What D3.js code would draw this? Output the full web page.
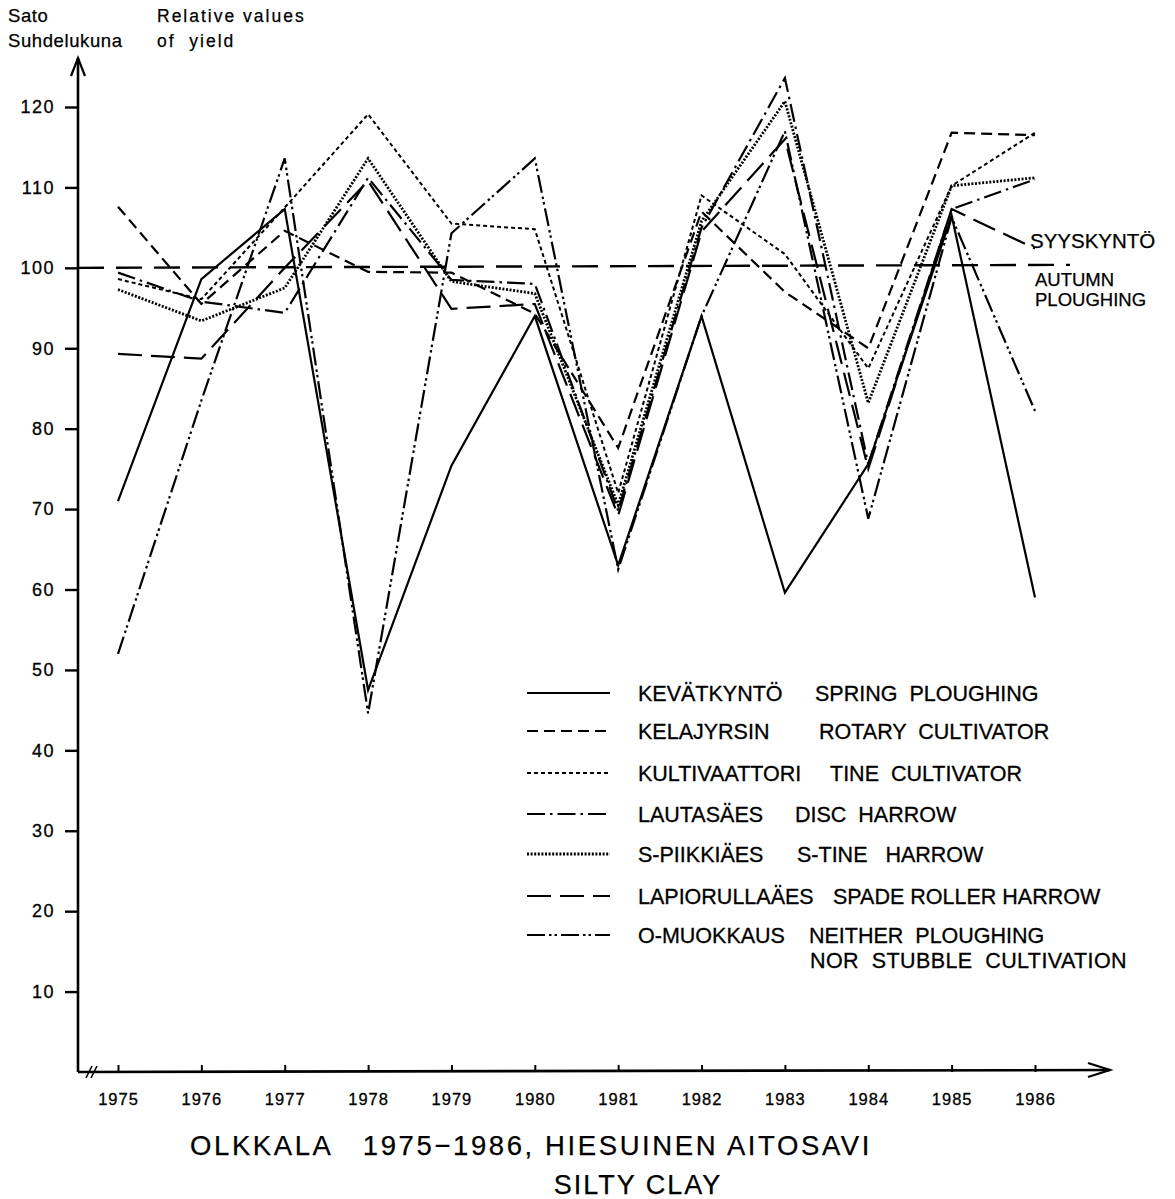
<!DOCTYPE html>
<html>
<head>
<meta charset="utf-8">
<script src="https://cdn.jsdelivr.net/npm/d3@7"></script>
<style>
  html, body { margin: 0; padding: 0; background: #fff; }
  svg text { font-family: "Liberation Sans", Arial, sans-serif; fill: #000; white-space: pre; }
</style>
</head>
<body>
<div id="chart"></div>
<script>
// DATA: relative yields (autumn ploughing = 100), Olkkala 1975-1986
const years = [1975, 1976, 1977, 1978, 1979, 1980, 1981, 1982, 1983, 1984, 1985, 1986];
const spring = [71, 98.6, 107.3, 47.5, 75.4, 94.0, 63.0, 94.0, 59.6, 75.6, 106.5, 59.0];
const rotary = [107.6, 95.5, 104.6, 99.5, 99.4, 94.3, 77.6, 107.0, 97.0, 90.0, 116.8, 116.5];
const tine = [98.6, 96.1, 107.5, 119.1, 105.5, 104.8, 72.0, 109.0, 101.7, 87.5, 110.2, 116.8];
const disc = [99.4, 95.8, 94.4, 111.2, 98.5, 98.0, 69.8, 105.0, 123.6, 75.6, 107.3, 111.0];
const stine = [97.3, 93.4, 97.5, 113.6, 98.3, 96.8, 70.5, 105.8, 120.7, 83.2, 110.2, 111.2];
const spade = [89.3, 88.7, 100.0, 110.8, 94.9, 95.5, 69.2, 104.5, 116.0, 75.0, 107.3, 102.4];
const noTill = [52.0, 83.5, 113.6, 44.6, 104.3, 113.6, 62.5, 94.0, 117.0, 68.8, 106.3, 82.2];
const autumnRef = 100;
const yTicks = [10, 20, 30, 40, 50, 60, 70, 80, 90, 100, 110, 120];

const legendFi = ['KEVÄTKYNTÖ', 'KELAJYRSIN', 'KULTIVAATTORI', 'LAUTASÄES', 'S-PIIKKIÄES', 'LAPIORULLAÄES', 'O-MUOKKAUS'];
const legendEn = ['SPRING  PLOUGHING', 'ROTARY  CULTIVATOR', 'TINE  CULTIVATOR', 'DISC  HARROW', 'S-TINE   HARROW', 'SPADE ROLLER HARROW', 'NEITHER  PLOUGHING'];

const series = [
    { values: spring, dash: null, width: 2.2 },
    { values: rotary, dash: '11,6', width: 2.2 },
    { values: tine, dash: '4,3', width: 2 },
    { values: disc, dash: '18,5,2.5,5', width: 2.2 },
    { values: stine, dash: '2,1.6', width: 2.8 },
    { values: spade, dash: '24,9', width: 2.2 },
    { values: noTill, dash: '18,4,2.5,3,2.5,4', width: 2.2 }
];

const width = 1175, height = 1199;
const svg = d3.select('#chart').append('svg')
    .attr('width', width)
    .attr('height', height)
    .attr('viewBox', `0 0 ${width} ${height}`);

const x = d3.scaleLinear().domain([1975, 1986]).range([118, 1035]);
const y = d3.scaleLinear().domain([0, 120]).range([1072, 107]);
const axisX = 78, axisY = y(0);

// AXES
const gy = svg.append('g')
    .attr('transform', `translate(${axisX},0)`)
    .call(d3.axisLeft(y).tickValues(yTicks).tickSize(13).tickPadding(10).tickFormat(d3.format('d')));
gy.select('.domain').remove();
gy.selectAll('.tick line').attr('stroke', '#000').attr('stroke-width', 2.4);
gy.selectAll('.tick text')
    .attr('font-size', 18).attr('letter-spacing', 1.5)
    .attr('stroke', '#000').attr('stroke-width', 0.3)
    .style('font-family', '"Liberation Sans", Arial, sans-serif');

const gx = svg.append('g')
    .attr('transform', `translate(0,${axisY})`)
    .call(d3.axisBottom(x).tickValues(years).tickSize(-7).tickPadding(21).tickFormat(d3.format('d')));
gx.select('.domain').remove();
gx.selectAll('.tick line').attr('stroke', '#000').attr('stroke-width', 2);
gx.selectAll('.tick text')
    .attr('font-size', 16.5).attr('letter-spacing', 1)
    .attr('stroke', '#000').attr('stroke-width', 0.3)
    .style('font-family', '"Liberation Sans", Arial, sans-serif');

// axis lines and arrows
svg.append('line').attr('x1', axisX).attr('y1', axisY).attr('x2', axisX).attr('y2', 58)
    .attr('stroke', '#000').attr('stroke-width', 2.6);
svg.append('path').attr('d', `M${axisX - 7},${76} L${axisX},${58} L${axisX + 7},${76}`)
    .attr('fill', 'none').attr('stroke', '#000').attr('stroke-width', 2.2);
svg.append('line').attr('x1', axisX).attr('y1', axisY).attr('x2', 1110).attr('y2', axisY - 2)
    .attr('stroke', '#000').attr('stroke-width', 2.6);
svg.append('path').attr('d', `M1088,${axisY - 9} L1110,${axisY - 2} L1088,${axisY + 5}`)
    .attr('fill', 'none').attr('stroke', '#000').attr('stroke-width', 2.2);
// axis break mark
svg.append('path').attr('d', `M86,${axisY + 6} L92,${axisY - 6} M91,${axisY + 6} L97,${axisY - 6}`)
    .attr('stroke', '#000').attr('stroke-width', 1.6);

// AUTUMN PLOUGHING reference
svg.append('line')
    .attr('x1', axisX).attr('x2', 1070)
    .attr('y1', y(autumnRef)).attr('y2', y(autumnRef) - 3)
    .attr('stroke', '#000').attr('stroke-width', 2.4)
    .attr('stroke-dasharray', '26,12');

// SERIES
const line = d3.line().x((d, i) => x(years[i])).y(d => y(d));
svg.append('g').selectAll('path')
    .data(series)
    .join('path')
    .attr('d', d => line(d.values))
    .attr('fill', 'none')
    .attr('stroke', '#000')
    .attr('stroke-width', d => d.width)
    .attr('stroke-linejoin', 'miter')
    .attr('stroke-dasharray', d => d.dash);

// LEGEND
const baselines = [701, 739, 781, 822, 862, 904, 943];
const enX = [815, 819, 830, 795, 797, 833, 809];
const lg = svg.append('g').attr('stroke', '#000').attr('stroke-width', 0.3);
const rows = lg.selectAll('g').data(series).join('g')
    .attr('transform', (d, i) => `translate(0,${baselines[i]})`);
rows.append('line')
    .attr('x1', 527).attr('x2', 610).attr('y1', -8).attr('y2', -8)
    .attr('stroke', '#000')
    .attr('stroke-width', d => d.width)
    .attr('stroke-dasharray', d => d.dash);
rows.append('text')
    .attr('x', 638).attr('y', 0)
    .attr('font-size', 21.5)
    .text((d, i) => legendFi[i]);
rows.append('text')
    .attr('x', (d, i) => enX[i]).attr('y', 0)
    .attr('font-size', 21.5)
    .text((d, i) => legendEn[i]);
lg.append('text').attr('x', 810).attr('y', 968)
    .attr('font-size', 21.5).attr('letter-spacing', 0.4)
    .text('NOR  STUBBLE  CULTIVATION');

// ANNOTATIONS
const notes = svg.append('g').attr('stroke', '#000').attr('stroke-width', 0.25);
notes.append('text').attr('x', 1030).attr('y', 248).attr('font-size', 20.5).text('SYYSKYNTÖ');
notes.append('text').attr('x', 1035).attr('y', 286).attr('font-size', 18.5).text('AUTUMN');
notes.append('text').attr('x', 1035).attr('y', 306).attr('font-size', 18.5).text('PLOUGHING');

notes.append('text').attr('x', 8).attr('y', 22).attr('font-size', 18.5).attr('letter-spacing', 0.6).text('Sato');
notes.append('text').attr('x', 8).attr('y', 47).attr('font-size', 18.5).attr('letter-spacing', 0.6).text('Suhdelukuna');
notes.append('text').attr('x', 157).attr('y', 22).attr('font-size', 17.5).attr('letter-spacing', 2).text('Relative values');
notes.append('text').attr('x', 157).attr('y', 47).attr('font-size', 17.5).attr('letter-spacing', 2).text('of  yield');

// TITLE
notes.append('text').attr('x', 190).attr('y', 1155)
    .attr('font-size', 27.5).attr('letter-spacing', 2.6)
    .text('OLKKALA   1975−1986, HIESUINEN AITOSAVI');
notes.append('text').attr('x', 638).attr('y', 1194).attr('text-anchor', 'middle')
    .attr('font-size', 27).attr('letter-spacing', 2)
    .text('SILTY CLAY');
</script>
</body>
</html>
